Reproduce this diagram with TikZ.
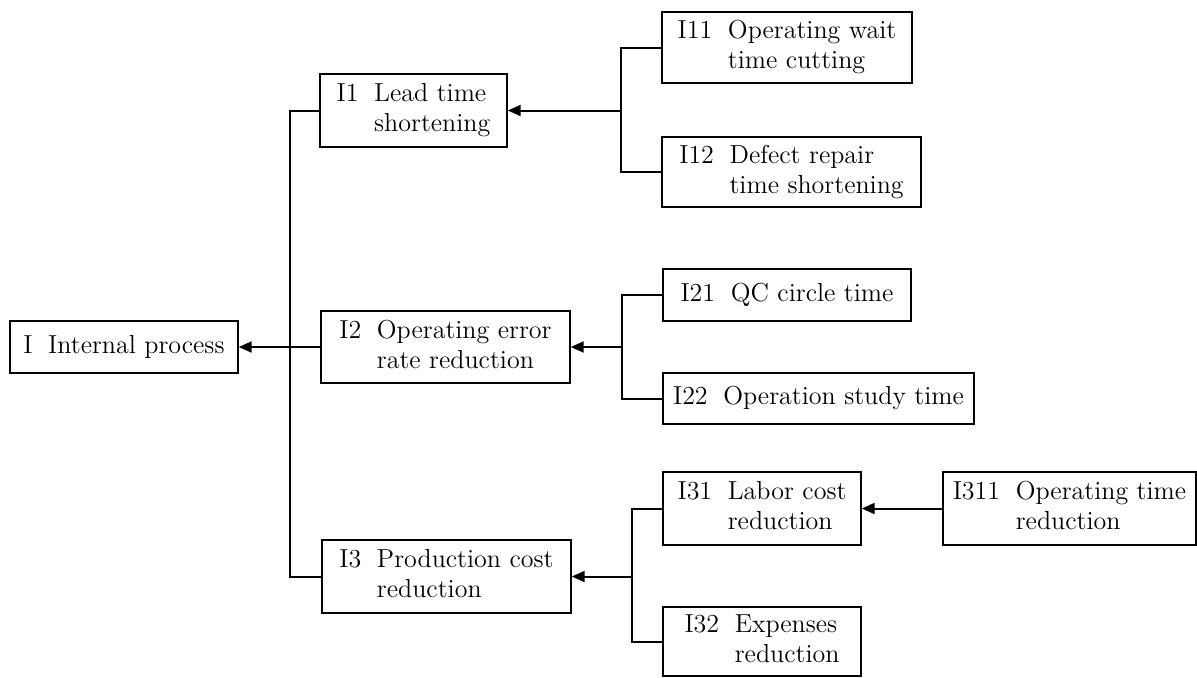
\documentclass[tikz,border=0pt]{standalone}
\usetikzlibrary{arrows.meta}
\newcommand\twoline[3]{\begin{tabular}{@{}l@{\hspace{0.6em}}l@{}}#1&#2\\&#3\end{tabular}}
\newcommand\oneline[2]{\begin{tabular}{@{}l@{\hspace{0.6em}}l@{}}#1&#2\end{tabular}}
\tikzset{
  box/.style={draw=black, line width=0.7pt, inner sep=1pt, font=\fontsize{13}{15}\selectfont},
  link/.style={line width=1pt},
  arr/.style={line width=1pt, -{Triangle[length=6.5pt,width=5.5pt]}},
}
\begin{document}
\begin{tikzpicture}[x=0.5pt,y=-0.5pt]
\useasboundingbox (0,0) rectangle (1197,677);
% nodes (centres in px, sizes in pt = px/2)
\node[box, minimum width=114pt, minimum height=26pt] (I) at (124,347) {\oneline{I}{Internal process}};
\node[box, minimum width=93.5pt, minimum height=36.5pt] (I1) at (413.5,110.5) {\twoline{I1}{Lead time}{shortening}};
\node[box, minimum width=124.5pt, minimum height=36pt] (I2) at (445.5,347) {\twoline{I2}{Operating error}{rate reduction}};
\node[box, minimum width=124.5pt, minimum height=36.5pt] (I3) at (446.5,576.5) {\twoline{I3}{Production cost}{reduction}};
\node[box, minimum width=125pt, minimum height=35.5pt] (I11) at (787,47.5) {\twoline{I11}{Operating wait}{time cutting}};
\node[box, minimum width=129.5pt, minimum height=35pt] (I12) at (791.5,172) {\twoline{I12}{Defect repair}{time shortening}};
\node[box, minimum width=124pt, minimum height=26pt] (I21) at (787,295) {\oneline{I21}{QC circle time}};
\node[box, minimum width=155.5pt, minimum height=25.5pt] (I22) at (818.5,398.5) {\oneline{I22}{Operation study time}};
\node[box, minimum width=99pt, minimum height=36.5pt] (I31) at (762,508.5) {\twoline{I31}{Labor cost}{reduction}};
\node[box, minimum width=99pt, minimum height=34.5pt] (I32) at (762,641.5) {\twoline{I32}{Expenses}{reduction}};
\node[box, minimum width=126.5pt, minimum height=36.5pt] (I311) at (1069.5,508.5) {\twoline{I311}{Operating time}{reduction}};
% junction coordinates
\coordinate (t) at (290,347);
\coordinate (b1) at (621,110.5);
\coordinate (b2) at (622,347);
\coordinate (b3) at (632,576.5);
% trunk
\draw[link] (I1.west) -| (t) |- (I3.west);
\draw[link] (I2.west) -- (t);
\draw[arr] (t) -- (I.east);
% branch 1
\draw[link] (I11.west) -| (b1) |- (I12.west);
\draw[arr] (b1) -- (I1.east);
% branch 2
\draw[link] (I21.west) -| (b2) |- (I22.west);
\draw[arr] (b2) -- (I2.east);
% branch 3
\draw[link] (I31.west) -| (b3) |- (I32.west);
\draw[arr] (b3) -- (I3.east);
% I311
\draw[arr] (I311.west) -- (I31.east);
\end{tikzpicture}
\end{document}
